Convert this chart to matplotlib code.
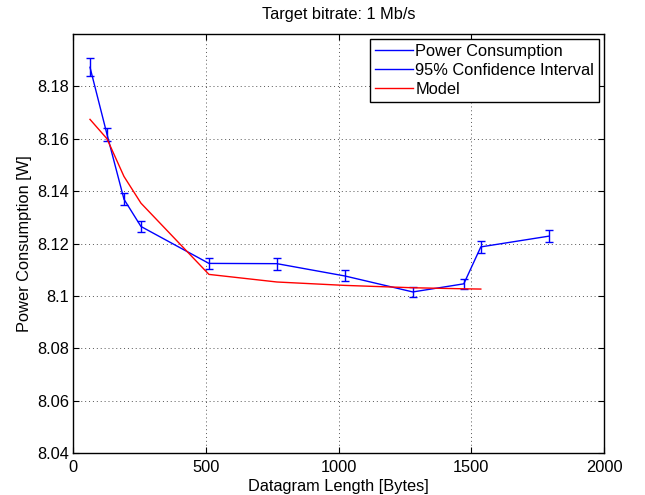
import matplotlib
matplotlib.use("Agg")
import matplotlib.pyplot as plt
from matplotlib.lines import Line2D

plt.rcParams['font.family'] = ['Liberation Sans', 'DejaVu Sans']

# Measured power consumption versus datagram length
lengths = [64, 128, 192, 256, 512, 768, 1024, 1280, 1472, 1536, 1792]
power = [8.1873, 8.1617, 8.1369, 8.1265, 8.1124, 8.1123, 8.1076, 8.1015, 8.1046, 8.1187, 8.1228]
ci_half = [0.0034, 0.0025, 0.0022, 0.0022, 0.0022, 0.0023, 0.0021, 0.0019, 0.0020, 0.0023, 0.0024]

# Fitted model
model_lengths = [64, 128, 192, 256, 512, 768, 1024, 1280, 1472, 1536]
model_power = [8.1674, 8.1600, 8.1456, 8.1354, 8.1082, 8.1053, 8.1040, 8.1031, 8.1027, 8.1026]

x_ticks = [0, 500, 1000, 1500, 2000]
y_ticks = [8.04, 8.06, 8.08, 8.10, 8.12, 8.14, 8.16, 8.18]
y_tick_labels = ['8.04', '8.06', '8.08', '8.1', '8.12', '8.14', '8.16', '8.18']

FS = 11.8

fig = plt.figure(figsize=(6.45, 4.95), dpi=100)
ax = fig.add_axes([73 / 645, 42 / 495, 531 / 645, 419 / 495])

blue = '#0000ff'
red = '#ff0000'
ax.plot(lengths, power, color=blue, lw=1.0)
ax.errorbar(lengths, power, yerr=ci_half, fmt='none', ecolor=blue, elinewidth=1.0,
            capsize=2.6, capthick=1.0)
ax.plot(model_lengths, model_power, color=red, lw=1.0)

ax.set_xlim(0, 2000)
ax.set_ylim(8.04, 8.2)
ax.set_xticks(x_ticks)
ax.set_yticks(y_ticks)
ax.set_yticklabels(y_tick_labels)
ax.tick_params(direction='in', length=4, labelsize=FS, colors='black')
ax.tick_params(axis='x', pad=5)
ax.tick_params(axis='y', pad=3)
ax.tick_params(top=True, right=True)
ax.grid(True, linestyle=(0, (1, 3)), color='#555555', lw=0.7)
for s in ax.spines.values():
    s.set_linewidth(1.0)

ax.set_title('Target bitrate: 1 Mb/s', fontsize=FS, pad=11)
ax.set_xlabel('Datagram Length [Bytes]', fontsize=FS, labelpad=3)
ax.set_ylabel('Power Consumption [W]', fontsize=FS, labelpad=3.5)

handles = [Line2D([], [], color=blue, lw=1.0),
           Line2D([], [], color=blue, lw=1.0),
           Line2D([], [], color=red, lw=1.0)]
leg = ax.legend(handles, ['Power Consumption', '95% Confidence Interval', 'Model'],
                loc='upper right', fontsize=FS, fancybox=False, framealpha=1,
                edgecolor='black', borderpad=0.3, labelspacing=0.25,
                handlelength=2.3, handletextpad=0.15, borderaxespad=0.3)
leg.get_frame().set_linewidth(1.0)

fig.savefig('out.png', dpi=100)
